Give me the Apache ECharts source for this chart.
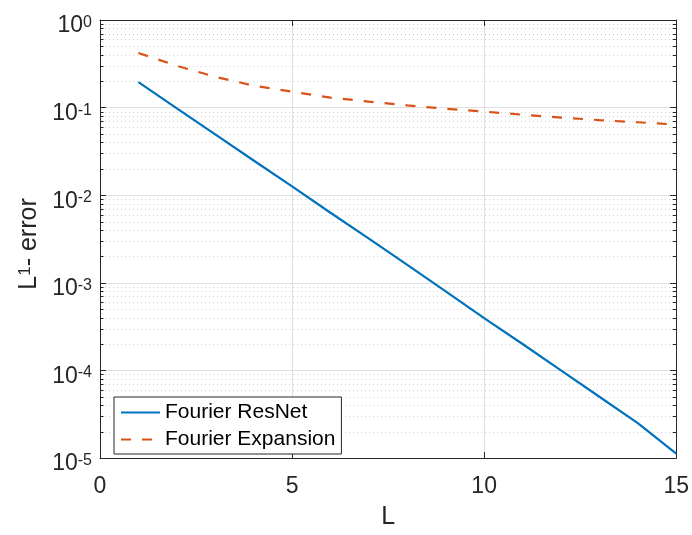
<!DOCTYPE html>
<html>
<head>
<meta charset="utf-8">
<script src="https://cdn.jsdelivr.net/npm/echarts@6/dist/echarts.min.js"></script>
<style>
  html, body { margin: 0; padding: 0; background: #ffffff; }
  #chart { width: 692px; height: 535px; }
</style>
</head>
<body>
<div id="chart"></div>
<script>
// Network depth L
const depths = [1, 2, 3, 4, 5, 6, 7, 8, 9, 10, 11, 12, 13, 14, 15];

// L1 error of each approximation
const resnetError = [0.195, 0.098, 0.0494, 0.0249, 0.0126, 0.0063, 0.0032, 0.0016, 0.00080,
                     0.000395, 0.000200, 0.000100, 0.000050, 0.000025, 0.0000112];
const expansionError = [0.42, 0.30, 0.225, 0.178, 0.152, 0.130, 0.117, 0.106, 0.097,
                        0.090, 0.083, 0.077, 0.072, 0.068, 0.064];

const seriesNames = ['Fourier ResNet', 'Fourier Expansion'];

// Axis ticks
const xTicks = [0, 5, 10, 15];
const yDecades = [-5, -4, -3, -2, -1, 0];

// Minor log ticks (2..9 within each decade)
const minorValues = [];
for (let d = -5; d < 0; d++) {
  for (let m = 2; m <= 9; m++) minorValues.push([0, m * Math.pow(10, d)]);
}

const FONT = 'Liberation Sans, Arial, Helvetica, sans-serif';
const INK = '#262626';

function decadeLabel(v) {
  const e = Math.round(Math.log10(v));
  return '{b|10}{s|' + e + '}';
}

const chart = echarts.init(document.getElementById('chart'), null, { renderer: 'canvas' });

const axisLabelRich = {
  b: { fontSize: 23, lineHeight: 23, verticalAlign: 'bottom', color: INK, fontFamily: FONT },
  s: { fontSize: 16, lineHeight: 16, verticalAlign: 'top', padding: [0, 0, 14, 0], color: INK, fontFamily: FONT }
};

chart.setOption({
  animation: false,
  backgroundColor: '#ffffff',
  grid: { left: 100, right: 14, top: 20, bottom: 70, containLabel: false },
  legend: {
    orient: 'vertical',
    left: 114,
    top: 397,
    data: seriesNames,
    backgroundColor: '#ffffff',
    borderColor: INK,
    borderWidth: 1,
    borderRadius: 0,
    padding: [5, 6, 4, 6],
    itemGap: 6,
    itemWidth: 39,
    itemHeight: 14,
    itemStyle: { opacity: 0 },
    textStyle: { fontSize: 21, color: '#000000', fontFamily: FONT }
  },
  xAxis: [
    {
      type: 'value', min: 0, max: 15, interval: 5, position: 'bottom',
      name: 'L', nameLocation: 'middle', nameGap: 47, nameMoveOverlap: false,
      nameTextStyle: { fontSize: 25, color: INK, fontFamily: FONT },
      axisLine: { show: true, onZero: false, lineStyle: { color: INK, width: 1 } },
      axisTick: { show: true, inside: true, length: 6, lineStyle: { color: INK } },
      axisLabel: {
        margin: 17, fontSize: 23, color: INK, fontFamily: FONT,
        formatter: v => (xTicks.indexOf(v) >= 0 ? String(v) : '')
      },
      splitLine: { show: true, lineStyle: { color: '#e0e0e0', width: 1 } }
    },
    {
      type: 'value', min: 0, max: 15, interval: 5, position: 'top',
      axisLine: { show: true, onZero: false, lineStyle: { color: INK, width: 1 } },
      axisTick: { show: true, inside: true, length: 6, lineStyle: { color: INK } },
      axisLabel: { show: false },
      splitLine: { show: false }
    }
  ],
  yAxis: [
    {
      type: 'log', logBase: 10, min: 1e-5, max: 1, position: 'left',
      name: '{n|L}{u|1}{n|- error}', nameLocation: 'middle', nameGap: 58, nameMoveOverlap: false,
      nameTextStyle: {
        padding: [0, 10, 0, 0],
        rich: {
          n: { fontSize: 25, lineHeight: 25, verticalAlign: 'bottom', color: INK, fontFamily: FONT },
          u: { fontSize: 17, lineHeight: 17, verticalAlign: 'top', padding: [0, 0, 13, 0], color: INK, fontFamily: FONT }
        }
      },
      axisLine: { show: true, onZero: false, lineStyle: { color: INK, width: 1 } },
      axisTick: { show: true, inside: true, length: 6, lineStyle: { color: INK } },
      axisLabel: {
        margin: 8, padding: [12, 0, 0, 0],
        formatter: decadeLabel,
        rich: axisLabelRich
      },
      splitLine: { show: true, lineStyle: { color: '#e0e0e0', width: 1 } },
      minorTick: { show: false },
      minorSplitLine: { show: false }
    },
    {
      type: 'log', logBase: 10, min: 1e-5, max: 1, position: 'right',
      axisLine: { show: true, onZero: false, lineStyle: { color: INK, width: 1 } },
      axisTick: { show: true, inside: true, length: 6, lineStyle: { color: INK } },
      axisLabel: { show: false },
      splitLine: { show: false }
    }
  ],
  series: [
    {
      // dotted minor grid and the short minor ticks on both vertical edges
      name: 'minor',
      type: 'custom',
      xAxisIndex: 0,
      yAxisIndex: 0,
      silent: true,
      clip: false,
      z: 1,
      data: minorValues,
      renderItem: function (params, api) {
        const cs = params.coordSys;
        const y = Math.round(api.coord([0, api.value(1)])[1]) + 0.5;
        const x0 = cs.x, x1 = cs.x + cs.width;
        return {
          type: 'group',
          children: [
            { type: 'line', shape: { x1: x0 + 1, y1: y, x2: x1 - 1, y2: y },
              style: { stroke: '#cfcfcf', lineWidth: 1, lineDash: [1, 3] } },
            { type: 'line', shape: { x1: x0, y1: y, x2: x0 + 3.5, y2: y },
              style: { stroke: INK, lineWidth: 1 } },
            { type: 'line', shape: { x1: x1 - 3.5, y1: y, x2: x1, y2: y },
              style: { stroke: INK, lineWidth: 1 } }
          ]
        };
      }
    },
    {
      name: seriesNames[0],
      type: 'line',
      xAxisIndex: 0,
      yAxisIndex: 0,
      data: depths.map((d, i) => [d, resnetError[i]]),
      symbol: 'none',
      z: 5,
      color: '#0072BD',
      lineStyle: { color: '#0072BD', width: 2.2 }
    },
    {
      name: seriesNames[1],
      type: 'line',
      xAxisIndex: 0,
      yAxisIndex: 0,
      data: depths.map((d, i) => [d, expansionError[i]]),
      symbol: 'none',
      z: 5,
      color: '#D95319',
      lineStyle: { color: '#D95319', width: 2.2, type: [10, 11] }
    }
  ]
});
</script>
</body>
</html>
